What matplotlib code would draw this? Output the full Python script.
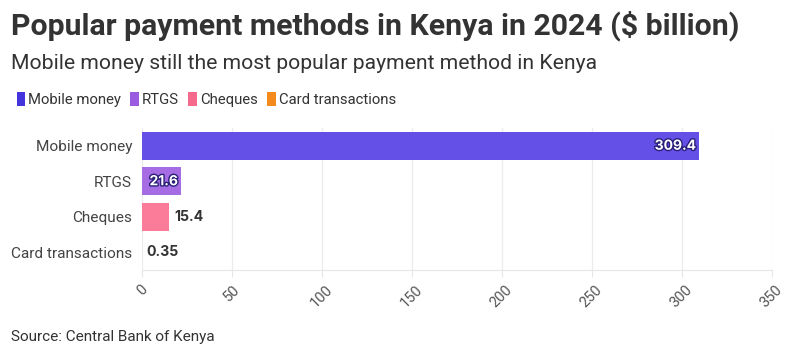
import matplotlib
matplotlib.use("Agg")
import matplotlib.pyplot as plt
import matplotlib.patheffects as pe
from matplotlib.patches import Patch

categories = ["Mobile money", "RTGS", "Cheques", "Card transactions"]
values = [309.4, 21.6, 15.4, 0.35]
labels = ["309.4", "21.6", "15.4", "0.35"]
bar_colors = ["#6450e6", "#a66ce4", "#fb7c98", "#f7a04a"]
legend_colors = ["#4434db", "#9b5be0", "#f56a8c", "#f58a1c"]
xticks = [0, 50, 100, 150, 200, 250, 300, 350]

fig = plt.figure(figsize=(7.94, 3.57), dpi=100)
ax = fig.add_axes([0.1785, 0.2437, 0.7934, 0.3978])

y = list(range(len(categories)))
ax.barh(y, values, height=0.79, color=bar_colors, zorder=2)
ax.set_ylim(len(categories) - 0.5, -0.5)
ax.set_xlim(0, 350)
ax.set_yticks(y)
ax.set_yticklabels(categories, fontsize=11.1, color="#444444", family="Roboto")
ax.set_xticks(xticks)
ax.set_xticklabels([str(t) for t in xticks], rotation=45, fontsize=10.5,
                   color="#555555", family="Roboto", ha="center", va="top")
ax.tick_params(axis="y", length=0, pad=7)
ax.tick_params(axis="x", length=5, color="#e6e6e6", pad=4)
ax.grid(axis="x", color="#ececec", linewidth=0.9, zorder=0)
for s in ["top", "right", "left"]:
    ax.spines[s].set_visible(False)
ax.spines["bottom"].set_color("#e6e6e6")

for i, (v, lab) in enumerate(zip(values, labels)):
    if v > 20:
        ax.text(v - 1.5, i, lab, ha="right", va="center", fontsize=10,
                fontweight="bold", color="white", family="Inter", zorder=3,
                path_effects=[pe.withStroke(linewidth=2.0, foreground="#2a1f7a")])
    else:
        ax.text(v + 2.5, i, lab, ha="left", va="center", fontsize=10.2,
                fontweight="bold", color="#333333", family="Inter", zorder=3)

fig.text(0.014, 0.928, "Popular payment methods in Kenya in 2024 ($ billion)",
         fontsize=21.8, fontweight="bold", color="#333333", family="Roboto", va="center")
fig.text(0.014, 0.822, "Mobile money still the most popular payment method in Kenya",
         fontsize=15.2, color="#333333", family="Roboto", va="center")

handles = [Patch(facecolor=c, edgecolor="none") for c in legend_colors]
fig.legend(handles, categories, loc="center left", bbox_to_anchor=(0.004, 0.722),
           ncol=4, frameon=False, handlelength=0.6, handleheight=1.1,
           handletextpad=0.2, columnspacing=0.6,
           prop={"family": "Roboto", "size": 10.7})
for t in fig.legends[0].get_texts():
    t.set_color("#333333")

fig.text(0.014, 0.055, "Source: Central Bank of Kenya", fontsize=11,
         color="#333333", family="Roboto", va="center")

fig.savefig("out.png", dpi=100)
